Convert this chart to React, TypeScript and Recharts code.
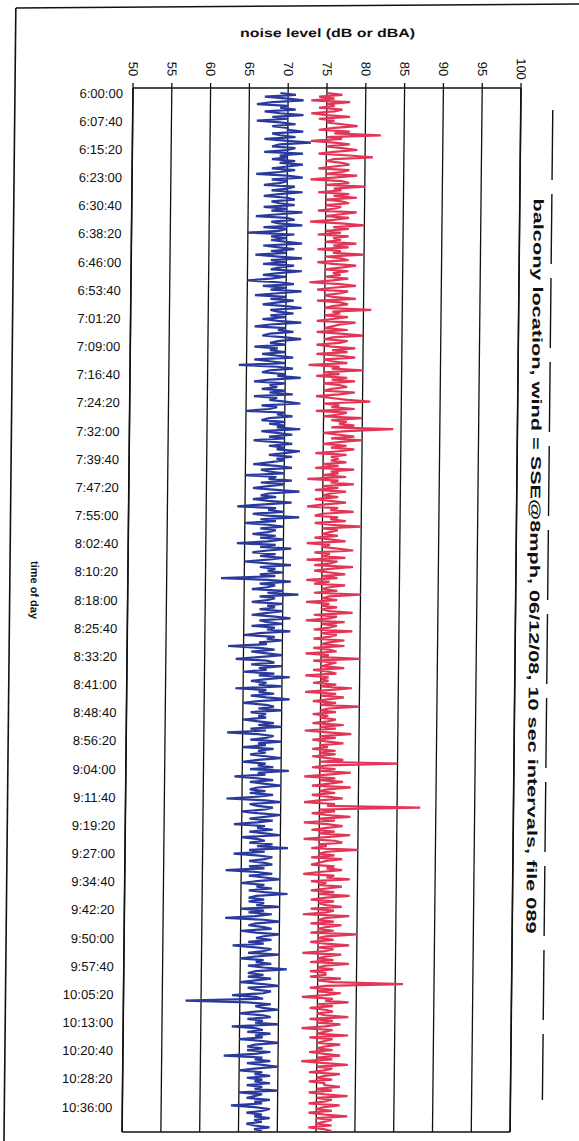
import React from 'react';
import { LineChart, Line, XAxis, YAxis, CartesianGrid, ReferenceLine } from 'recharts';

const timeLabels = [
  '6:00:00', '6:07:40', '6:15:20', '6:23:00', '6:30:40', '6:38:20', '6:46:00', '6:53:40',
  '7:01:20', '7:09:00', '7:16:40', '7:24:20', '7:32:00', '7:39:40', '7:47:20', '7:55:00',
  '8:02:40', '8:10:20', '8:18:00', '8:25:40', '8:33:20', '8:41:00', '8:48:40', '8:56:20',
  '9:04:00', '9:11:40', '9:19:20', '9:27:00', '9:34:40', '9:42:20', '9:50:00', '9:57:40',
  '10:05:20', '10:13:00', '10:20:40', '10:28:20', '10:36:00',
];

const levelTicks = [50, 55, 60, 65, 70, 75, 80, 85, 90, 95, 100];

// dBA readings (blue), one every 30 s
const blueDbA = [
  69, 71, 67, 70, 72, 68, 66, 70, 69, 71, 67, 69, 72, 68, 70, 66, 69, 71, 68, 70,
  70, 72, 68, 69, 71, 67, 70, 73, 69, 68, 71, 70, 67, 72, 69, 70, 68, 71, 69, 72,
  70, 68, 71, 69, 66, 70, 72, 68, 70, 69, 67, 71, 70, 68, 72, 69, 67, 70, 71, 68,
  69, 71, 67, 70, 68, 72, 69, 66, 70, 71, 68, 69, 72, 67, 70, 69, 65, 71, 68, 70,
  68, 70, 72, 67, 69, 71, 68, 70, 66, 69, 72, 68, 70, 67, 71, 69, 68, 72, 69, 67,
  70, 68, 65, 69, 71, 67, 70, 68, 72, 69, 66, 70, 68, 71, 69, 67, 70, 72, 68, 69,
  71, 68, 70, 67, 69, 72, 68, 66, 70, 69, 71, 68, 67, 70, 72, 69, 68, 70, 66, 69,
  68, 70, 67, 69, 71, 66, 68, 70, 64, 69, 71, 68, 67, 70, 69, 72, 68, 66, 70, 68,
  69, 67, 70, 68, 71, 66, 69, 68, 70, 72, 67, 69, 68, 65, 70, 69, 71, 68, 67, 70,
  68, 70, 69, 72, 67, 69, 71, 68, 70, 66, 69, 71, 68, 70, 69, 72, 70, 68, 71, 69,
  70, 68, 66, 69, 71, 67, 68, 70, 65, 69, 68, 71, 67, 70, 68, 66, 69, 72, 68, 67,
  69, 66, 68, 71, 67, 64, 69, 68, 70, 66, 68, 72, 67, 69, 65, 68, 70, 67, 69, 68,
  66, 69, 67, 70, 68, 64, 69, 67, 71, 68, 66, 69, 67, 70, 68, 65, 68, 71, 67, 69,
  68, 70, 67, 69, 62, 68, 71, 67, 69, 68, 66, 70, 68, 72, 67, 69, 68, 66, 70, 68,
  69, 67, 70, 68, 66, 69, 71, 67, 68, 70, 66, 69, 68, 71, 67, 65, 69, 68, 70, 67,
  68, 63, 67, 69, 66, 68, 70, 67, 64, 68, 69, 66, 70, 67, 68, 65, 69, 67, 71, 68,
  66, 68, 67, 70, 64, 68, 67, 69, 66, 68, 71, 67, 65, 68, 69, 67, 70, 66, 68, 67,
  68, 65, 67, 69, 67, 70, 66, 68, 63, 67, 69, 68, 66, 70, 67, 68, 65, 69, 67, 68,
  66, 68, 70, 67, 65, 68, 67, 69, 66, 71, 67, 68, 64, 67, 69, 66, 68, 70, 67, 66,
  68, 66, 69, 67, 63, 68, 70, 66, 67, 69, 68, 65, 67, 70, 68, 66, 69, 67, 64, 68,
  67, 69, 66, 68, 70, 65, 67, 68, 66, 69, 67, 71, 66, 68, 64, 67, 69, 68, 66, 68,
  69, 66, 68, 63, 67, 69, 66, 68, 70, 67, 65, 68, 67, 69, 66, 68, 71, 67, 66, 68,
  66, 68, 67, 70, 65, 68, 66, 69, 67, 63, 68, 70, 67, 66, 68, 69, 65, 67, 70, 68,
  67, 69, 66, 68, 64, 67, 69, 68, 66, 70, 67, 65, 68, 67, 69, 66, 68, 71, 67, 66,
  68, 66, 69, 67, 65, 68, 70, 66, 67, 69, 68, 64, 67, 68, 58, 66, 69, 67, 68, 70,
  67, 65, 68, 69, 66, 68, 67, 70, 64, 67, 68, 66, 69, 67, 68, 65, 68, 70, 67, 66,
  68, 66, 69, 67, 63, 68, 67, 69, 66, 68, 70, 67, 65, 68, 67, 69, 66, 68, 67, 69,
  66, 68, 67, 70, 65, 68, 67, 66, 69, 67, 68, 64, 67, 69, 68, 66, 68, 67, 69, 67,
  68, 66, 67, 69, 67, 68,
];

// dB readings (red)
const redDb = [
  75, 77, 74, 76, 73, 78, 75, 76, 74, 77, 76, 73, 75, 78, 74, 76, 75, 77, 79, 76,
  74, 78, 76, 82, 75, 77, 73, 76, 78, 75, 77, 79, 76, 74, 78, 81, 76, 75, 77, 78,
  76, 74, 78, 77, 75, 79, 76, 73, 77, 78, 75, 80, 76, 77, 74, 78, 76, 79, 75, 77,
  78, 75, 77, 76, 74, 79, 77, 75, 78, 76, 73, 77, 80, 76, 78, 75, 77, 74, 78, 76,
  77, 75, 79, 76, 78, 74, 77, 76, 80, 75, 77, 78, 74, 76, 79, 77, 75, 78, 76, 77,
  75, 78, 76, 73, 77, 79, 76, 74, 78, 77, 75, 76, 79, 74, 77, 78, 76, 75, 81, 76,
  77, 75, 78, 76, 74, 79, 77, 76, 75, 78, 74, 77, 80, 76, 75, 78, 77, 74, 76, 79,
  76, 78, 74, 77, 79, 75, 76, 78, 73, 77, 76, 80, 75, 77, 74, 78, 76, 79, 75, 77,
  78, 76, 75, 79, 77, 74, 76, 78, 81, 75, 77, 76, 79, 74, 78, 77, 75, 80, 76, 78,
  77, 79, 76, 84, 78, 75, 77, 79, 76, 80, 77, 75, 78, 76, 79, 77, 74, 78, 76, 77,
  76, 78, 75, 77, 74, 79, 76, 77, 75, 78, 73, 77, 76, 79, 75, 77, 74, 78, 76, 75,
  77, 74, 76, 78, 75, 73, 77, 76, 79, 75, 74, 77, 76, 78, 74, 76, 80, 75, 77, 76,
  75, 77, 74, 76, 78, 73, 76, 75, 77, 79, 74, 76, 75, 78, 73, 77, 76, 74, 79, 76,
  74, 76, 78, 75, 77, 73, 76, 74, 78, 76, 75, 77, 74, 80, 76, 75, 77, 73, 76, 75,
  77, 75, 76, 79, 74, 77, 76, 73, 78, 75, 77, 76, 74, 79, 75, 77, 76, 74, 78, 76,
  75, 78, 74, 76, 77, 73, 76, 75, 80, 74, 77, 76, 75, 78, 74, 76, 77, 73, 76, 75,
  76, 74, 77, 75, 79, 76, 73, 77, 75, 78, 76, 74, 77, 75, 80, 76, 75, 77, 74, 76,
  75, 77, 76, 74, 78, 75, 77, 73, 76, 79, 75, 77, 74, 76, 78, 75, 76, 74, 77, 75,
  77, 74, 76, 78, 75, 85, 76, 74, 77, 75, 79, 76, 73, 77, 75, 78, 76, 74, 79, 76,
  75, 77, 74, 76, 78, 75, 73, 77, 76, 88, 75, 77, 74, 76, 79, 75, 77, 73, 76, 78,
  76, 74, 77, 75, 79, 76, 73, 77, 78, 75, 76, 74, 80, 76, 75, 77, 74, 78, 76, 75,
  74, 77, 76, 78, 75, 73, 77, 76, 79, 74, 76, 75, 78, 76, 74, 77, 75, 79, 76, 74,
  77, 75, 76, 78, 74, 77, 76, 73, 79, 76, 75, 77, 74, 78, 76, 75, 77, 74, 80, 76,
  75, 77, 74, 76, 79, 75, 77, 76, 73, 78, 76, 75, 77, 74, 79, 76, 75, 77, 74, 76,
  76, 74, 78, 75, 77, 86, 76, 74, 77, 75, 78, 76, 73, 77, 76, 79, 75, 77, 74, 76,
  77, 75, 76, 79, 74, 77, 75, 78, 76, 73, 77, 76, 75, 79, 74, 77, 76, 75, 78, 76,
  75, 77, 74, 76, 78, 75, 77, 73, 76, 79, 75, 77, 76, 74, 78, 76, 75, 77, 74, 76,
  76, 78, 75, 77, 74, 76, 79, 75, 77, 76, 74, 78, 76, 75, 77, 74, 76, 79, 75, 77,
  76, 75, 77, 74, 76, 77,
];

const STEP = 30; // seconds between plotted readings

const toSec = (s: string) => {
  const [h, m, sec] = s.split(':').map(Number);
  return (h - 6) * 3600 + m * 60 + sec;
};
const timeTicks = timeLabels.map(toSec);
const labelOf: Record<number, string> = {};
timeLabels.forEach((l) => { labelOf[toSec(l)] = l; });

const data = blueDbA.map((v, i) => ({ t: i * STEP, dba: v, db: redDb[i] }));

const FONT = '"Liberation Sans", Arial, sans-serif';

const LevelTick = (props: any) => {
  const { x, y, payload } = props;
  return (
    <text transform={`translate(${x},${y - 12}) rotate(90)`} textAnchor="middle"
      dominantBaseline="central" fontSize={13} fontFamily={FONT} fill="#111">
      {payload.value}
    </text>
  );
};

const TimeTick = (props: any) => {
  const { x, y, payload } = props;
  return (
    <text x={x} y={y} textAnchor="end" dominantBaseline="central" fontSize={13}
      fontFamily={FONT} fill="#111">
      {labelOf[payload.value]}
    </text>
  );
};

export default function App() {
  return (
    <div style={{ position: 'absolute', left: 0, top: 0, width: 579, height: 1141, background: '#fff', overflow: 'hidden' }}>
      <div style={{ position: 'absolute', left: 0, top: 0, width: 579, height: 1141, transform: 'skewX(-0.6deg)', transformOrigin: '0 88px' }}>
        <svg width={579} height={1141} style={{ position: 'absolute', left: 0, top: 0 }}>
          <line x1={15} y1={8} x2={579} y2={4} stroke="#111" strokeWidth={1.6} />
          <line x1={15} y1={8} x2={15} y2={1141} stroke="#111" strokeWidth={1.6} />
          <line x1={553} y1={110} x2={553} y2={1100} stroke="#111" strokeWidth={1.4} strokeDasharray="70 14" />
          <text x={327} y={33} textAnchor="middle" dominantBaseline="central" fontSize={12}
            fontWeight="bold" fontFamily={FONT} fill="#111" textLength={175} lengthAdjust="spacingAndGlyphs">
            noise level (dB or dBA)
          </text>
          <text transform="translate(40,590) rotate(90)" textAnchor="middle" dominantBaseline="central"
            fontSize={11} fontWeight="bold" fontFamily={FONT} fill="#111">
            time of day
          </text>
          <text transform="translate(540,566) rotate(90)" textAnchor="middle" dominantBaseline="central"
            fontSize={14} fontWeight="bold" fontFamily={FONT} fill="#111" textLength={735} lengthAdjust="spacingAndGlyphs">
            balcony location, wind = SSE@8mph, 06/12/08, 10 sec intervals, file 089
          </text>
        </svg>
        <div style={{ position: 'absolute', left: 0, top: 0 }}>
          <LineChart width={579} height={1141} data={data} layout="vertical"
            margin={{ top: 48, right: 58, bottom: 9, left: 73 }}>
            <CartesianGrid horizontal={false} stroke="#111" strokeWidth={1.3} />
            <XAxis type="number" orientation="top" domain={[50, 100]} ticks={levelTicks}
              height={40} tick={<LevelTick />} tickSize={5} interval={0}
              axisLine={{ stroke: '#111', strokeWidth: 1.6 }} tickLine={{ stroke: '#111', strokeWidth: 1.3 }} />
            <YAxis type="number" dataKey="t" domain={[-82, 16966]} ticks={timeTicks}
              width={60} interval={0} tick={<TimeTick />} tickSize={0} tickMargin={10}
              tickLine={false} axisLine={{ stroke: '#111', strokeWidth: 1.6 }} />
            <ReferenceLine x={100} stroke="#111" strokeWidth={1.6} />
            <ReferenceLine y={16966} stroke="#111" strokeWidth={1.6} />
            <Line dataKey="dba" type="linear" stroke="#2a3a9c" strokeWidth={2.2} dot={false} isAnimationActive={false} />
            <Line dataKey="db" type="linear" stroke="#e23656" strokeWidth={2.2} dot={false} isAnimationActive={false} />
          </LineChart>
        </div>
      </div>
    </div>
  );
}
